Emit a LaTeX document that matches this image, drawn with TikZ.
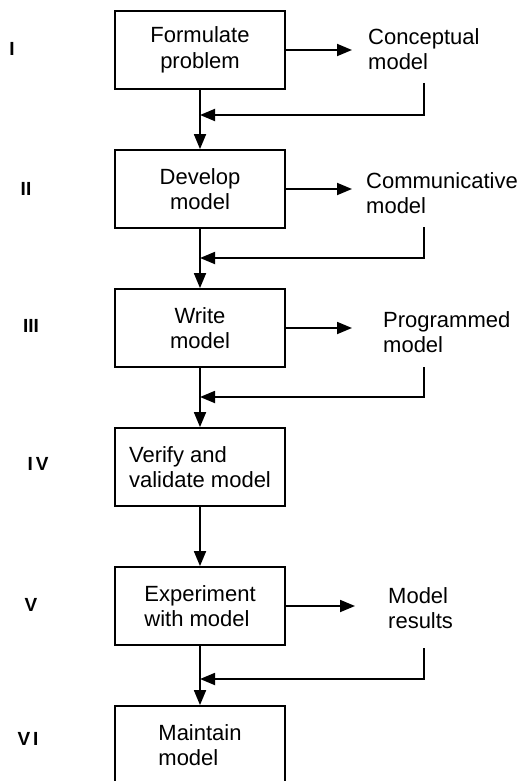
\documentclass[tikz,border=0pt]{standalone}
\usepackage{fontspec}
\setmainfont{Liberation Sans}
\usetikzlibrary{arrows.meta}
\begin{document}
\begin{tikzpicture}[x=1pt,y=-1pt,
  stage/.style={draw, line width=1.8pt, minimum width=170pt, minimum height=78pt,
    inner sep=0pt, font=\fontsize{22}{25.5}\selectfont},
  product/.style={anchor=west, align=left, inner sep=0pt,
    font=\fontsize{22}{25.5}\selectfont},
  numeral/.style={inner sep=0pt, font=\fontsize{19}{20}\selectfont\bfseries},
  flow/.style={line width=1.8pt, -{Triangle[length=15pt,width=12pt]}},
]
\clip (0,0) rectangle (526,781);

% stages of the modelling process
\node[stage, align=center] (b1) at (200,50)  {Formulate\\problem};
\node[stage, align=center] (b2) at (200,189) {Develop\\model};
\node[stage, align=center] (b3) at (200,328) {Write\\model};
\node[stage, align=left]   (b4) at (200,467) {Verify and\\validate model};
\node[stage, align=left]   (b5) at (200,606) {Experiment\\with model};
\node[stage, align=left]   (b6) at (200,745) {Maintain\\model};

% stage numbers
\node[numeral] (n1) at (12,49)  {I};
\node[numeral] (n2) at (26,189) {II};
\node[numeral] (n3) at (31,326) {III};
\node[numeral] (n4) at (38,464) {I\kern3pt V};
\node[numeral] (n5) at (31,605) {V};
\node[numeral] (n6) at (28,739) {V\kern3pt I};

% products of the stages
\node[product] (t1) at (368,49)  {Conceptual\\model};
\node[product] (t2) at (366,193) {Communicative\\model};
\node[product] (t3) at (383,332) {Programmed\\model};
\node[product] (t5) at (388,608) {Model\\results};

% arrows to the products
\coordinate (a1) at (352,50);
\coordinate (a2) at (352,189);
\coordinate (a3) at (352,328);
\coordinate (a5) at (355,606);
\draw[flow] (b1.east) -- (a1);
\draw[flow] (b2.east) -- (a2);
\draw[flow] (b3.east) -- (a3);
\draw[flow] (b5.east) -- (a5);

% main sequence
\draw[flow] (b1) -- (b2);
\draw[flow] (b2) -- (b3);
\draw[flow] (b3) -- (b4);
\draw[flow] (b4) -- (b5);
\draw[flow] (b5) -- (b6);

% feedback of each product into the sequence
\coordinate (f1) at (424,83);  \coordinate (j1) at (200,115);
\coordinate (f2) at (424,227); \coordinate (j2) at (200,258);
\coordinate (f3) at (424,367); \coordinate (j3) at (200,397);
\coordinate (f5) at (424,648); \coordinate (j5) at (200,679);
\draw[flow] (f1) |- (j1);
\draw[flow] (f2) |- (j2);
\draw[flow] (f3) |- (j3);
\draw[flow] (f5) |- (j5);
\end{tikzpicture}
\end{document}
